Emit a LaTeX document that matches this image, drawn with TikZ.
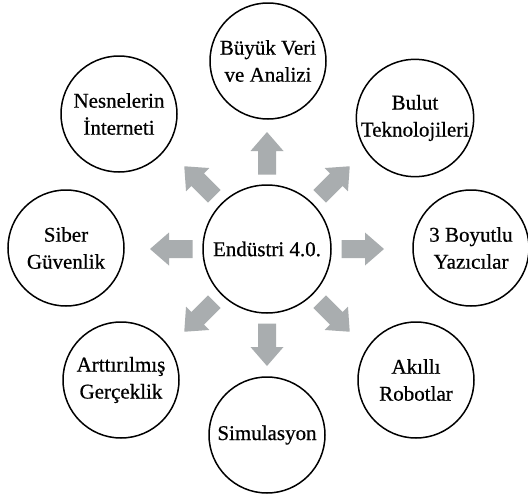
\documentclass[tikz,border=0pt]{standalone}
\usepackage{fontspec}
\setmainfont{Liberation Serif}
\newfontfamily\diagfont[FakeBold=0.6]{Liberation Serif}
\usetikzlibrary{calc}
\definecolor{arrowgray}{RGB}{169,173,175}
\tikzset{
  bubble/.style={circle, draw=black, line width=1.5pt, minimum size=116pt, inner sep=0pt,
    align=center, font=\diagfont\fontsize{21}{27}\selectfont},
  hub/.style={bubble, minimum size=128pt},
  blockarrow/.pic={\fill[arrowgray] (-21.5,-9) -- (2,-9) -- (2,-16.5) -- (21,0) -- (2,16.5) -- (2,9) -- (-21.5,9) -- cycle;}
}
\begin{document}
\begin{tikzpicture}[x=1pt,y=-1pt]
\useasboundingbox[fill=white] (0,0) rectangle (528,498);
\node[hub] (hub) at (267,249) {Endüstri 4.0.};
\node[bubble] (veri) at (268,61) {Büyük Veri\\ve Analizi};
\node[bubble] (bulut) at (415,118) {Bulut\\Teknolojileri};
\node[bubble] (yazici) at (471,248) {3 Boyutlu\\Yazıcılar};
\node[bubble] (robot) at (416,380) {Akıllı\\Robotlar};
\node[bubble] (sim) at (267,435) {Simulasyon};
\node[bubble] (ar) at (121,380) {Arttırılmış\\Gerçeklik};
\node[bubble] (siber) at (66,248) {Siber\\Güvenlik};
\node[bubble] (iot) at (119,114) {Nesnelerin\\İnterneti};
\foreach \a in {0,45,...,315}{
  \pic[rotate=\a] at ($(hub.center)+(\a:96pt)$) {blockarrow};
}
\end{tikzpicture}
\end{document}
